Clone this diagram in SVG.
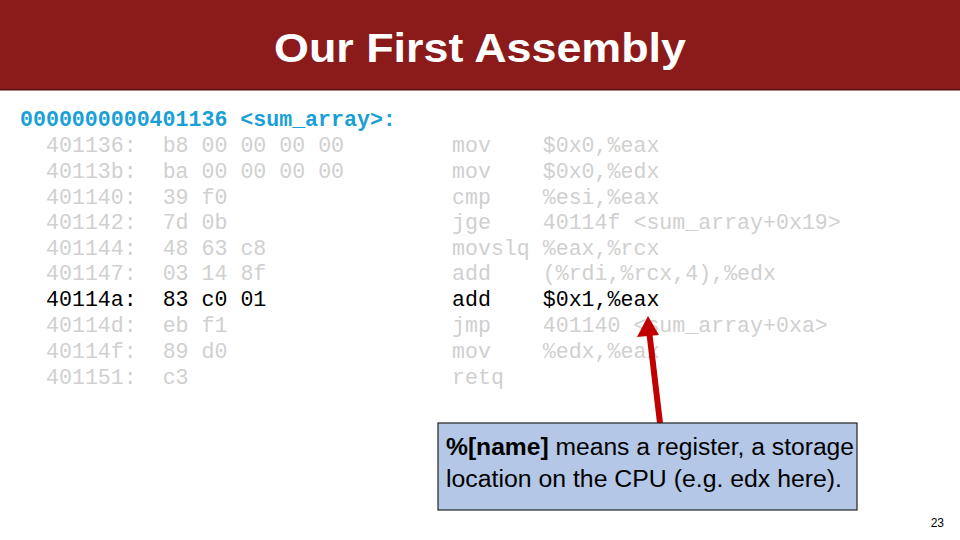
<svg xmlns="http://www.w3.org/2000/svg" width="960" height="540" viewBox="0 0 960 540">
<style>
.m{font-family:"Liberation Mono",monospace;font-size:21.6px;fill:#d0d0d0;white-space:pre}
.k{fill:#000}
.b{fill:#1a9fd6;font-weight:bold}
.t{font-family:"Liberation Sans",Arial,sans-serif;font-size:23px;fill:#000}
</style>
<rect width="960" height="540" fill="#fff"/>
<g id="header"><rect x="0" y="0" width="960" height="90" fill="#8b1a1a"/><rect x="0" y="89" width="960" height="1.5" fill="#5a0f0f"/>
<text x="480" y="62" text-anchor="middle" font-family="Liberation Sans,Arial,sans-serif" font-size="41" font-weight="bold" fill="#fff" textLength="412" lengthAdjust="spacingAndGlyphs">Our First Assembly</text></g>
<g id="code" xml:space="preserve">
<text class="m b" x="20" y="126">0000000000401136 &lt;sum_array&gt;:</text>
<text class="m" x="46" y="152">401136:  b8 00 00 00 00</text>
<text class="m" x="46" y="178">40113b:  ba 00 00 00 00</text>
<text class="m" x="46" y="204">401140:  39 f0</text>
<text class="m" x="46" y="229">401142:  7d 0b</text>
<text class="m" x="46" y="255">401144:  48 63 c8</text>
<text class="m" x="46" y="280">401147:  03 14 8f</text>
<text class="m k" x="46" y="306">40114a:  83 c0 01</text>
<text class="m" x="46" y="332">40114d:  eb f1</text>
<text class="m" x="46" y="358">40114f:  89 d0</text>
<text class="m" x="46" y="384">401151:  c3</text>
<text class="m" x="452" y="152">mov    $0x0,%eax</text>
<text class="m" x="452" y="178">mov    $0x0,%edx</text>
<text class="m" x="452" y="204">cmp    %esi,%eax</text>
<text class="m" x="452" y="229">jge    40114f &lt;sum_array+0x19&gt;</text>
<text class="m" x="452" y="255">movslq %eax,%rcx</text>
<text class="m" x="452" y="280">add    (%rdi,%rcx,4),%edx</text>
<text class="m k" x="452" y="306">add    $0x1,%eax</text>
<text class="m" x="452" y="332">jmp    401140 &lt;sum_array+0xa&gt;</text>
<text class="m" x="452" y="358">mov    %edx,%eax</text>
<text class="m" x="452" y="384">retq</text>
</g>
<g id="connectors"><line x1="660" y1="423" x2="649" y2="330" stroke="#c00000" stroke-width="6"/><path d="M637,337L648,316L659,335z" fill="#c00000"/></g>
<g id="note"><rect x="438" y="423" width="419" height="87" fill="#b4c7e7" stroke="#222" stroke-width="1.2"/>
<text class="t" x="446" y="455" textLength="408" lengthAdjust="spacingAndGlyphs"><tspan font-weight="bold">%[name]</tspan> means a register, a storage</text>
<text class="t" x="446" y="487" textLength="396" lengthAdjust="spacingAndGlyphs">location on the CPU (e.g. edx here).</text></g>
<text x="944" y="527" text-anchor="end" font-family="Liberation Sans,Arial,sans-serif" font-size="12" fill="#000">23</text>
</svg>
